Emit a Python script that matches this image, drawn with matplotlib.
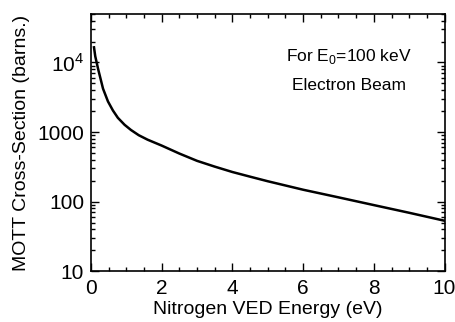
import matplotlib
matplotlib.use("Agg")
import matplotlib.pyplot as plt
from matplotlib.ticker import LogLocator, MultipleLocator, FixedLocator, FixedFormatter

# MOTT cross-section vs nitrogen VED energy
energy = [0.085, 0.12, 0.2, 0.34, 0.48, 0.62, 0.76, 0.95, 1.13, 1.35, 1.6, 2.0, 2.5,
          3.0, 3.5, 4.0, 4.5, 5.0, 6.0, 7.0, 8.0, 9.0, 10.0]
cross_section = [16500, 12300, 8100, 4200, 2750, 2040, 1600, 1270, 1070, 900, 776, 638, 490,
                 385, 318, 266, 228, 196, 148, 115, 89, 69, 53]

y_ticks = [10, 100, 1000, 10000]
y_tick_labels = ["10", "100", "1000", r"10$^4$"]

plt.rcParams['font.family'] = ['Liberation Sans', 'DejaVu Sans']
plt.rcParams['mathtext.fontset'] = 'custom'
plt.rcParams['mathtext.rm'] = 'Liberation Sans'

fig = plt.figure(figsize=(4.55, 3.22), dpi=100)
ax = fig.add_axes([0.2, 0.158, 0.777, 0.799])

ax.plot(energy, cross_section, color='black', lw=1.8)
ax.set_yscale('log')
ax.set_xlim(0, 10)
ax.set_ylim(10, 5e4)

ax.xaxis.set_major_locator(MultipleLocator(2))
ax.xaxis.set_minor_locator(MultipleLocator(0.5))
ax.yaxis.set_major_locator(FixedLocator(y_ticks))
ax.yaxis.set_major_formatter(FixedFormatter(y_tick_labels))
ax.yaxis.set_minor_locator(LogLocator(base=10, subs=range(2, 10)))
ax.yaxis.set_minor_formatter(plt.NullFormatter())

ax.tick_params(which='both', direction='in', top=True, right=True, width=1)
ax.tick_params(which='major', length=6, labelsize=15)
ax.tick_params(axis='x', which='major', pad=6)
ax.tick_params(axis='y', which='major', pad=5)
ax.tick_params(which='minor', length=3)
for s in ax.spines.values():
    s.set_linewidth(1.2)

ax.set_xlabel('Nitrogen VED Energy (eV)', fontsize=14, labelpad=2)
ax.set_ylabel('MOTT Cross-Section (barns.)', fontsize=14, labelpad=5)

ax.text(0.73, 0.835, r'For E$_0$=100 keV', transform=ax.transAxes, ha='center', va='center', fontsize=12.5)
ax.text(0.73, 0.72, 'Electron Beam', transform=ax.transAxes, ha='center', va='center', fontsize=12.5)

fig.savefig('out.png', dpi=100)
